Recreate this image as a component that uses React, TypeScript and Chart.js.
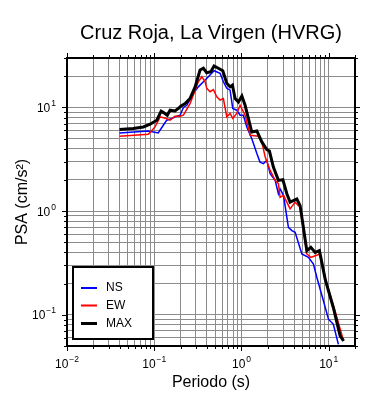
import React, { useEffect, useRef } from 'react';
import { Chart, registerables } from 'chart.js';

Chart.register(...registerables);

const TITLE = 'Cruz Roja, La Virgen (HVRG)';
const X_LABEL = 'Periodo (s)';
const Y_LABEL = 'PSA (cm/s²)';

const X_MIN = 0.01;
const X_MAX = 20;
const Y_MIN = 0.05;
const Y_MAX = 30;

const xDecades = [0.01, 0.1, 1, 10];
const xExponents = ['−2', '−1', '0', '1'];
const yDecades = [0.1, 1, 10];
const yExponents = ['−1', '0', '1'];
const minorSteps = [1, 2, 3, 4, 5, 6, 7, 8, 9];

const seriesLabels = ['NS', 'EW', 'MAX'];
const seriesColors = ['#0000ff', '#ff0000', '#000000'];
const seriesWidths = [1.5, 1.5, 3];

const nsPeriods = [0.040, 0.0855, 0.111, 0.127, 0.139, 0.159, 0.173, 0.198, 0.216, 0.236,
  0.281, 0.320, 0.366, 0.417, 0.485, 0.569, 0.620, 0.678, 0.740, 0.794,
  0.883, 0.964, 1.05, 1.15, 1.31, 1.50, 1.63, 1.78, 1.95, 2.13,
  2.43, 2.65, 2.77, 3.03, 3.45, 3.78, 4.12, 4.92, 5.85, 6.68,
  7.31, 8.70, 9.93, 11.3, 12.9];
const nsValues = [5.68, 5.94, 5.68, 6.74, 7.54, 7.83, 8.11, 8.42, 10.0, 10.5,
  13.7, 15.8, 17.7, 19.8, 22.6, 21.3, 17.7, 15.3, 14.7, 9.78,
  9.41, 8.42, 8.42, 6.49, 5.01, 3.59, 2.97, 2.87, 3.09, 2.30,
  1.98, 1.47, 1.64, 1.42, 0.698, 0.648, 0.625, 0.386, 0.358, 0.309,
  0.229, 0.136, 0.0906, 0.0810, 0.0519];

const ewPeriods = [0.040, 0.0855, 0.102, 0.117, 0.137, 0.152, 0.173, 0.198, 0.216, 0.257,
  0.281, 0.320, 0.351, 0.383, 0.400, 0.436, 0.476, 0.521, 0.569, 0.620,
  0.678, 0.740, 0.794, 0.883, 0.964, 1.10, 1.26, 1.56, 1.71, 1.87,
  2.13, 2.43, 2.65, 2.77, 3.03, 3.61, 4.12, 4.70, 5.61, 6.24,
  6.99, 7.96, 9.50, 11.8, 14.8];
const ewValues = [5.27, 5.52, 6.49, 8.11, 7.83, 7.54, 8.24, 8.24, 8.42, 10.9,
  13.2, 17.7, 19.8, 17.7, 15.3, 14.2, 14.9, 12.7, 11.8, 12.2,
  8.11, 8.75, 7.83, 8.75, 10.5, 8.42, 5.39, 5.27, 4.65, 3.33,
  2.47, 1.98, 1.84, 1.36, 1.42, 1.05, 1.22, 1.09, 0.386, 0.358,
  0.371, 0.386, 0.198, 0.109, 0.0559];

const maxPeriods = [0.040, 0.0575, 0.075, 0.0896, 0.107, 0.120, 0.129, 0.141, 0.152, 0.173,
  0.189, 0.201, 0.226, 0.257, 0.294, 0.335, 0.366, 0.400, 0.445, 0.485,
  0.543, 0.610, 0.678, 0.740, 0.787, 0.845, 0.922, 1.01, 1.10, 1.31,
  1.50, 1.71, 1.95, 2.09, 2.32, 2.65, 2.98, 3.31, 3.61, 4.31,
  4.70, 5.61, 6.24, 6.99, 7.82, 9.10, 11.3, 13.5, 14.8];
const maxValues = [6.12, 6.26, 6.49, 6.89, 7.54, 9.21, 8.87, 8.42, 9.42, 9.27,
  9.78, 10.3, 10.9, 12.2, 15.8, 23.0, 23.9, 21.6, 22.1, 25.1,
  23.9, 22.6, 17.1, 15.8, 16.4, 12.2, 11.3, 12.9, 10.5, 5.81,
  5.94, 4.65, 3.92, 3.80, 2.66, 1.98, 2.01, 1.47, 1.22, 1.31,
  1.13, 0.415, 0.447, 0.400, 0.416, 0.221, 0.117, 0.0625, 0.0559];

const FONT = '"Liberation Sans", Arial, Helvetica, sans-serif';
const GRID_COLOR = '#8c8c8c';

function zip(xs: number[], ys: number[]) {
  return xs.map((x, i) => ({ x, y: ys[i] }));
}

function logTicks(min: number, max: number) {
  const out: { value: number }[] = [];
  for (let e = -3; e <= 2; e++) {
    for (const m of minorSteps) {
      const v = parseFloat((m * Math.pow(10, e)).toPrecision(6));
      if (v >= min - 1e-12 && v <= max + 1e-12) out.push({ value: v });
    }
  }
  return out;
}

function isDecade(v: number) {
  const l = Math.log10(v);
  return Math.abs(l - Math.round(l)) < 1e-6;
}

const framePlugin = {
  id: 'gmtFrame',
  beforeDraw(chart: any) {
    const ctx = chart.ctx;
    ctx.save();
    ctx.fillStyle = '#ffffff';
    ctx.fillRect(0, 0, chart.width, chart.height);
    ctx.restore();
  },
  afterDraw(chart: any) {
    const ctx: CanvasRenderingContext2D = chart.ctx;
    const a = chart.chartArea;
    const xs = chart.scales.x;
    const ys = chart.scales.y;
    ctx.save();

    // outward ticks on all four sides
    ctx.strokeStyle = '#000';
    ctx.lineWidth = 1;
    ctx.beginPath();
    for (const t of xs.ticks) {
      const px = Math.round(xs.getPixelForValue(t.value)) + 0.5;
      const len = isDecade(t.value) ? 5 : 3;
      ctx.moveTo(px, a.top);
      ctx.lineTo(px, a.top - len);
      ctx.moveTo(px, a.bottom);
      ctx.lineTo(px, a.bottom + len);
    }
    for (const t of ys.ticks) {
      const py = Math.round(ys.getPixelForValue(t.value)) + 0.5;
      const len = isDecade(t.value) ? 5 : 3;
      ctx.moveTo(a.left, py);
      ctx.lineTo(a.left - len, py);
      ctx.moveTo(a.right, py);
      ctx.lineTo(a.right + len, py);
    }
    ctx.stroke();

    // frame
    ctx.lineWidth = 2;
    ctx.strokeRect(a.left, a.top, a.right - a.left, a.bottom - a.top);

    // tick labels (10 with superscript exponent)
    ctx.fillStyle = '#000';
    ctx.textBaseline = 'alphabetic';
    ctx.textAlign = 'left';
    const baseFont = '12px ' + FONT;
    const expFont = '8.5px ' + FONT;
    xDecades.forEach((v, i) => {
      const px = xs.getPixelForValue(v);
      ctx.font = baseFont;
      const w1 = ctx.measureText('10').width;
      ctx.font = expFont;
      const w2 = ctx.measureText(xExponents[i]).width;
      const start = px - (w1 + w2 + 1) / 2;
      ctx.font = baseFont;
      ctx.fillText('10', start, a.bottom + 22);
      ctx.font = expFont;
      ctx.fillText(xExponents[i], start + w1 + 1, a.bottom + 16);
    });
    yDecades.forEach((v, i) => {
      const py = ys.getPixelForValue(v);
      ctx.font = baseFont;
      const w1 = ctx.measureText('10').width;
      ctx.font = expFont;
      const w2 = ctx.measureText(yExponents[i]).width;
      const end = a.left - 11;
      const start = end - (w1 + w2 + 1);
      ctx.font = baseFont;
      ctx.fillText('10', start, py + 4.5);
      ctx.font = expFont;
      ctx.fillText(yExponents[i], start + w1 + 1, py - 1.5);
    });

    // axis titles
    const cx = (a.left + a.right) / 2;
    const cy = (a.top + a.bottom) / 2;
    ctx.font = '16px ' + FONT;
    ctx.textAlign = 'center';
    ctx.fillText(X_LABEL, cx, a.bottom + 41);
    ctx.save();
    ctx.translate(27, cy);
    ctx.rotate(-Math.PI / 2);
    ctx.fillText(Y_LABEL, 0, 0);
    ctx.restore();

    // title
    ctx.font = '20px ' + FONT;
    ctx.fillText(TITLE, cx, 39);

    // legend
    const lx = a.left + 6;
    const ly = a.bottom - 79;
    const lw = 80;
    const lh = 72;
    ctx.fillStyle = '#fff';
    ctx.fillRect(lx, ly, lw, lh);
    ctx.strokeStyle = '#000';
    ctx.lineWidth = 2;
    ctx.strokeRect(lx, ly, lw, lh);
    ctx.font = '12px ' + FONT;
    ctx.textAlign = 'left';
    ctx.textBaseline = 'middle';
    const rows = [21, 38.5, 56.5];
    seriesLabels.forEach((lab, i) => {
      const yy = ly + rows[i];
      ctx.strokeStyle = seriesColors[i];
      ctx.lineWidth = i === 2 ? 3 : 2;
      ctx.beginPath();
      ctx.moveTo(lx + 8, yy);
      ctx.lineTo(lx + 24, yy);
      ctx.stroke();
      ctx.fillStyle = '#000';
      ctx.fillText(lab, lx + 33, yy);
    });

    ctx.restore();
  },
};

export default function App() {
  const canvasRef = useRef<HTMLCanvasElement | null>(null);

  useEffect(() => {
    const canvas = canvasRef.current;
    if (!canvas) return;
    const dataSets = [zip(nsPeriods, nsValues), zip(ewPeriods, ewValues), zip(maxPeriods, maxValues)];
    const chart = new Chart(canvas, {
      type: 'line',
      data: {
        datasets: seriesLabels.map((label, i) => ({
          label,
          data: dataSets[i],
          borderColor: seriesColors[i],
          backgroundColor: seriesColors[i],
          borderWidth: seriesWidths[i],
          pointRadius: 0,
          tension: 0,
          fill: false,
          order: 2 - i,
        })),
      },
      options: {
        animation: false,
        responsive: false,
        devicePixelRatio: 1,
        events: [],
        layout: { padding: { left: 67, right: 35, top: 58, bottom: 54 } },
        plugins: {
          legend: { display: false },
          title: { display: false },
          tooltip: { enabled: false },
        },
        scales: {
          x: {
            type: 'logarithmic',
            position: 'bottom',
            min: X_MIN,
            max: X_MAX,
            grid: { color: GRID_COLOR, lineWidth: 1, drawTicks: false },
            border: { display: false },
            ticks: { display: false },
            afterBuildTicks: (s: any) => { s.ticks = logTicks(X_MIN, X_MAX); },
            afterFit: (s: any) => { s.height = 0; },
          },
          y: {
            type: 'logarithmic',
            position: 'left',
            min: Y_MIN,
            max: Y_MAX,
            grid: { color: GRID_COLOR, lineWidth: 1, drawTicks: false },
            border: { display: false },
            ticks: { display: false },
            afterBuildTicks: (s: any) => { s.ticks = logTicks(Y_MIN, Y_MAX); },
            afterFit: (s: any) => { s.width = 0; },
          },
        },
      } as any,
      plugins: [framePlugin],
    });
    return () => chart.destroy();
  }, []);

  return (
    <div style={{ position: 'fixed', left: 0, top: 0, width: 390, height: 400, background: '#fff' }}>
      <canvas ref={canvasRef} width={390} height={400} style={{ display: 'block', width: 390, height: 400 }} />
    </div>
  );
}
